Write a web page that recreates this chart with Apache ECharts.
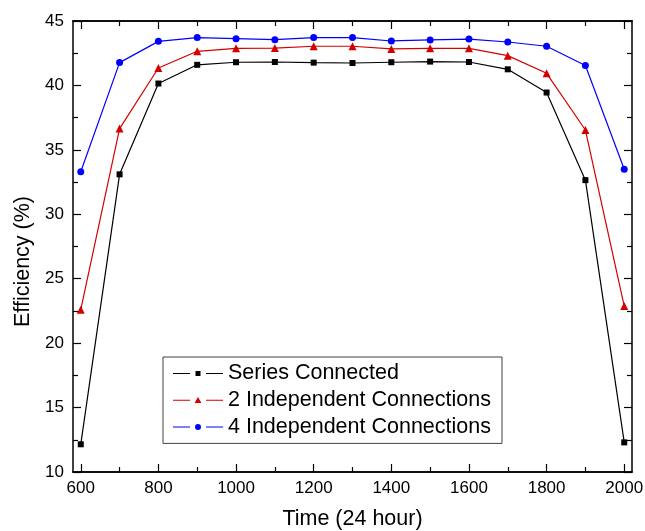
<!DOCTYPE html>
<html>
<head>
<meta charset="utf-8">
<script src="https://cdn.jsdelivr.net/npm/echarts@6/dist/echarts.min.js"></script>
<style>
html,body{margin:0;padding:0;background:#fff;}
#chart{width:645px;height:531px;}
</style>
</head>
<body>
<div id="chart"></div>
<script>
const times = [600,700,800,900,1000,1100,1200,1300,1400,1500,1600,1700,1800,1900,2000];
const seriesConnected = [12.15,33.1,40.15,41.6,41.8,41.82,41.77,41.74,41.8,41.85,41.82,41.25,39.45,32.65,12.3];
const twoIndependent = [22.6,36.65,41.35,42.65,42.88,42.9,43.04,43.04,42.83,42.88,42.88,42.31,40.94,36.54,22.88];
const fourIndependent = [33.3,41.77,43.42,43.71,43.63,43.55,43.71,43.71,43.45,43.53,43.6,43.37,43.04,41.54,33.5];
const xMajorTicks = [600,800,1000,1200,1400,1600,1800,2000];
const xMinorTicks = [700,900,1100,1300,1500,1700,1900];
const seriesNames = ['Series Connected','2 Independent Connections','4 Independent Connections'];

const FONT = 'Arial, "Liberation Sans", sans-serif';
const chart = echarts.init(document.getElementById('chart'));
const axisLineStyle = {color:'#000', width:1.5};
function xAx(position, values, len, labels, extra){
  return Object.assign({
    type:'value', min:580, max:2020, position:position,
    axisLine:{show:true, onZero:false, lineStyle:axisLineStyle},
    axisTick:{show:true, inside:true, length:len, customValues:values, lineStyle:{color:'#000', width:1.2}},
    axisLabel:{show:labels, customValues:values, fontSize:17, color:'#000', margin:8, fontFamily:FONT,
               formatter:function(v){return String(v);}},
    splitLine:{show:false}
  }, extra||{});
}
function yAx(position, labels, extra){
  return Object.assign({
    type:'value', min:10, max:45, interval:5, position:position,
    axisLine:{show:true, onZero:false, lineStyle:axisLineStyle},
    axisTick:{show:true, inside:true, length:8, lineStyle:{color:'#000', width:1.2}},
    minorTick:{show:true, splitNumber:2, length:5, lineStyle:{color:'#000', width:1.2}},
    axisLabel:{show:labels, fontSize:17, color:'#000', margin:9, fontFamily:FONT},
    splitLine:{show:false}
  }, extra||{});
}
const icons = {
  rect: 'path://M0 0M50 8M0 3.5h17v1H0zM33 3.5h17v1H33zM22.5 1.5h5v5h-5z',
  tri: 'path://M0 0M50 8M0 3.5h17v1H0zM33 3.5h17v1H33zM25 0.8L28.4 6.8H21.6z',
  circ: 'path://M0 0M50 8M0 3.5h17v1H0zM33 3.5h17v1H33zM22 4a3 3 0 1 0 6 0a3 3 0 1 0 -6 0z'
};
const colors = ['#000000','#d40000','#0000ff'];
chart.setOption({
  animation:false,
  backgroundColor:'#fff',
  grid:{left:73, right:13, top:21, bottom:59, containLabel:false, outerBoundsMode:'none'},
  legend:{
    orient:'vertical', left:163, top:357,
    padding:[5.5,11,5.5,10], itemGap:4.7,
    itemWidth:50, itemHeight:8,
    borderColor:'#404040', borderWidth:1,
    textStyle:{fontSize:21.5, lineHeight:21, color:'#000', fontFamily:FONT},
    itemStyle:{borderWidth:0},
    data:[
      {name:seriesNames[0], icon:icons.rect},
      {name:seriesNames[1], icon:icons.tri},
      {name:seriesNames[2], icon:icons.circ}
    ]
  },
  xAxis:[
    xAx('bottom', xMajorTicks, 8, true, {name:'Time (24 hour)', nameLocation:'middle', nameGap:36, nameTextStyle:{fontSize:21.5, color:'#000', fontFamily:FONT}}),
    xAx('bottom', xMinorTicks, 5, false),
    xAx('top', xMajorTicks, 8, false),
    xAx('top', xMinorTicks, 5, false)
  ],
  yAxis:[
    yAx('left', true, {name:'Efficiency (%)', nameLocation:'middle', nameGap:38, nameTextStyle:{fontSize:21.5, color:'#000', fontFamily:FONT, padding:[0,30,0,0]}}),
    yAx('right', false)
  ],
  series:[
    {name:seriesNames[0], type:'line', data:times.map((t,i)=>[t,seriesConnected[i]]), symbol:'rect', symbolSize:6,
     itemStyle:{color:colors[0], borderWidth:0}, lineStyle:{color:colors[0], width:1.2}},
    {name:seriesNames[1], type:'line', data:times.map((t,i)=>[t,twoIndependent[i]]), symbol:'triangle', symbolSize:8,
     itemStyle:{color:colors[1], borderWidth:0}, lineStyle:{color:colors[1], width:1.2}},
    {name:seriesNames[2], type:'line', data:times.map((t,i)=>[t,fourIndependent[i]]), symbol:'circle', symbolSize:7,
     itemStyle:{color:colors[2], borderWidth:0}, lineStyle:{color:colors[2], width:1.2}}
  ]
});
</script>
</body>
</html>
